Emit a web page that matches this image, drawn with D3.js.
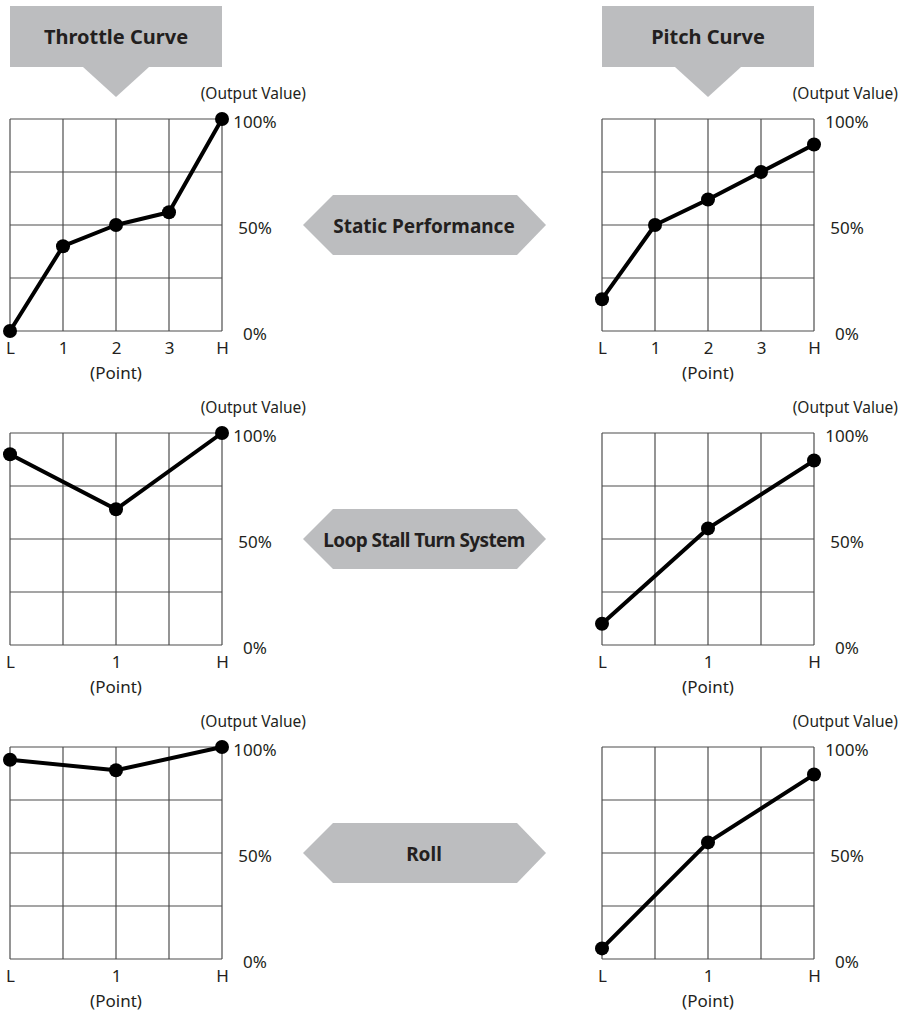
<!DOCTYPE html>
<html>
<head>
<meta charset="utf-8">
<script src="https://cdn.jsdelivr.net/npm/d3@7"></script>
<style>
  body { margin: 0; background: #fff; }
  svg { display: block; font-family: "Noto Sans", sans-serif; }
</style>
</head>
<body>
<div id="chart"></div>
<script>
// curve data (output value in %)
const fivePoints = ["L", "1", "2", "3", "H"];
const threePoints = ["L", "1", "H"];
const headers = ["Throttle Curve", "Pitch Curve"];
const modes = ["Static Performance", "Loop Stall Turn System", "Roll"];
const throttleStatic = [0, 40, 50, 56, 100];
const pitchStatic = [15, 50, 62, 75, 88];
const throttleLoop = [90, 64, 100];
const pitchLoop = [10, 55, 87];
const throttleRoll = [94, 89, 100];
const pitchRoll = [5, 55, 87];
const yTicks = [0, 50, 100];
const yLabels = ["0%", "50%", "100%"];

const W = 900, H = 1019;
const size = 212;
const colX = [10, 602];
const rowY = [119, 433, 747];
const grey = "#bcbdbf";
const ink = "#231f20";

const rows = [
  {mode: modes[0], points: fivePoints, curves: [throttleStatic, pitchStatic]},
  {mode: modes[1], points: threePoints, curves: [throttleLoop, pitchLoop]},
  {mode: modes[2], points: threePoints, curves: [throttleRoll, pitchRoll]}
];

const svg = d3.select("#chart").append("svg")
    .attr("width", W)
    .attr("height", H);

svg.append("rect").attr("width", W).attr("height", H).attr("fill", "#fff");

const y = d3.scaleLinear().domain([0, 100]).range([size, 0]);
const grid = d3.scaleLinear().domain([0, 4]).range([0, size]);

// header call-outs
headers.forEach((h, i) => {
  const g = svg.append("g").attr("transform", `translate(${colX[i]},0)`);
  g.append("rect")
    .attr("x", 0).attr("y", 6)
    .attr("width", size).attr("height", 61)
    .attr("fill", grey);
  g.append("path")
    .attr("d", `M${size / 2 - 33},67 L${size / 2 + 33},67 L${size / 2},97 Z`)
    .attr("fill", grey);
  g.append("text")
    .attr("x", size / 2).attr("y", 44)
    .attr("text-anchor", "middle")
    .attr("font-size", 20)
    .attr("font-weight", "bold")
    .attr("fill", ink)
    .text(h);
});

rows.forEach((row, r) => {
  const x = d3.scalePoint().domain(row.points).range([0, size]);

  // mode label between the two charts
  const cy = rowY[r] + size / 2;
  const hex = svg.append("g").attr("transform", `translate(0,${cy})`);
  hex.append("path")
    .attr("d", "M303,0 L333,-30 L517,-30 L546,0 L517,30 L333,30 Z")
    .attr("fill", grey);
  hex.append("text")
    .attr("x", 424).attr("y", 8)
    .attr("text-anchor", "middle")
    .attr("font-size", 19)
    .attr("font-weight", "bold")
    .attr("letter-spacing", row.mode.length > 20 ? -0.6 : 0)
    .attr("fill", ink)
    .text(row.mode);

  row.curves.forEach((vals, c) => {
    const g = svg.append("g")
      .attr("transform", `translate(${colX[c]},${rowY[r]})`);

    // grid
    g.append("g").selectAll("line.v")
      .data(d3.range(5)).join("line")
      .attr("x1", d => grid(d)).attr("x2", d => grid(d))
      .attr("y1", 0).attr("y2", size)
      .attr("stroke", "#4d4d4d").attr("stroke-width", 1.2);
    g.append("g").selectAll("line.h")
      .data(d3.range(5)).join("line")
      .attr("x1", 0).attr("x2", size)
      .attr("y1", d => grid(d)).attr("y2", d => grid(d))
      .attr("stroke", "#4d4d4d").attr("stroke-width", 1.2);

    // x axis labels
    const xa = g.append("g")
      .attr("transform", `translate(0,${size})`)
      .call(d3.axisBottom(x).tickSize(0).tickPadding(11));
    xa.select(".domain").remove();
    xa.selectAll("text")
      .attr("font-size", 17)
      .attr("font-family", "Noto Sans, sans-serif")
      .attr("fill", ink);

    // y axis labels
    const ya = g.append("g")
      .attr("transform", `translate(${size},0)`)
      .call(d3.axisRight(y).tickValues(yTicks)
        .tickFormat((d, i) => yLabels[i]).tickSize(0));
    ya.select(".domain").remove();
    ya.selectAll("text")
      .attr("x", 33)
      .attr("dy", "0.5em")
      .attr("text-anchor", "middle")
      .attr("font-size", 17)
      .attr("font-family", "Noto Sans, sans-serif")
      .attr("fill", ink);

    g.append("text")
      .attr("x", size / 2).attr("y", size + 48)
      .attr("text-anchor", "middle")
      .attr("font-size", 17)
      .attr("fill", ink)
      .text("(Point)");

    g.append("text")
      .attr("x", size + 84).attr("y", -20)
      .attr("text-anchor", "end")
      .attr("font-size", 15.5)
      .attr("fill", ink)
      .text("(Output Value)");

    // curve
    const line = d3.line()
      .x((d, i) => x(row.points[i]))
      .y(d => y(d));
    g.append("path")
      .datum(vals)
      .attr("fill", "none")
      .attr("stroke", "#000")
      .attr("stroke-width", 4)
      .attr("stroke-linejoin", "round")
      .attr("d", line);
    g.selectAll("circle")
      .data(vals).join("circle")
      .attr("cx", (d, i) => x(row.points[i]))
      .attr("cy", d => y(d))
      .attr("r", 7)
      .attr("fill", "#000");
  });
});
</script>
</body>
</html>
